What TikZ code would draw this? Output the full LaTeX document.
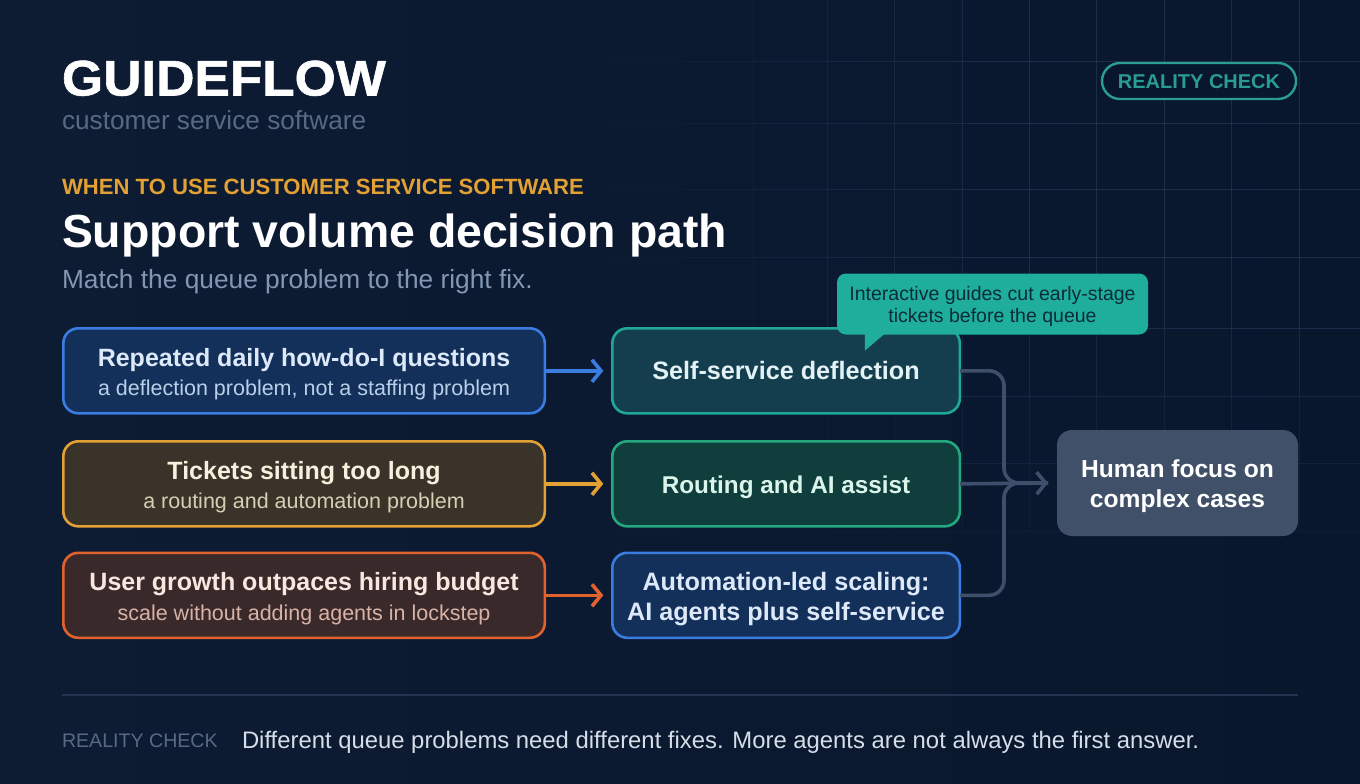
\documentclass[tikz,border=0pt]{standalone}
\usepackage{fontspec}
\setmainfont{Liberation Sans}
\newfontfamily\brandfont{Liberation Sans}[BoldFeatures={FakeStretch=1.06,FakeBold=1.2}]
\usepackage{xcolor}
\usepackage{tikz}
\usetikzlibrary{arrows.meta,positioning,calc}

\definecolor{bgleft}{HTML}{0D1C33}
\definecolor{bgright}{HTML}{08172C}
\definecolor{gridline}{HTML}{2A3F63}
\definecolor{ruleline}{HTML}{22344F}
\definecolor{mutedtext}{HTML}{566A86}
\definecolor{softtext}{HTML}{8297B4}
\definecolor{amber}{HTML}{E3A033}
\definecolor{tealline}{HTML}{2A9D90}
\definecolor{notefill}{HTML}{1FAE9B}
\definecolor{notetext}{HTML}{0B2B38}
\definecolor{blueline}{HTML}{3B7CE0}
\definecolor{bluefill}{HTML}{13305A}
\definecolor{amberfill}{HTML}{39332A}
\definecolor{orangeline}{HTML}{E2622E}
\definecolor{orangefill}{HTML}{3A292B}
\definecolor{cyanline}{HTML}{1FA896}
\definecolor{cyanfill}{HTML}{143E4E}
\definecolor{greenline}{HTML}{25A87E}
\definecolor{greenfill}{HTML}{0F3E3C}
\definecolor{humanfill}{HTML}{3F5068}
\definecolor{connline}{HTML}{3D4F6A}
\definecolor{footertext}{HTML}{D6DEE8}
\definecolor{bluetitle}{HTML}{DDE9F8}
\definecolor{bluesub}{HTML}{B8CFE8}
\definecolor{ambertitle}{HTML}{F6F0DC}
\definecolor{ambersub}{HTML}{D6CFB4}
\definecolor{orangetitle}{HTML}{F7E7DF}
\definecolor{orangesub}{HTML}{D9B3A6}
\definecolor{cyantitle}{HTML}{E3F3F5}
\definecolor{greentitle}{HTML}{DCF5EA}

\newcommand{\fsz}[2]{\fontsize{#1}{#2}\selectfont}
\newcommand{\topgap}[1]{\rule{0pt}{#1pt}}

\begin{document}
\begin{tikzpicture}[
    x=1pt, y=-1pt,
    label/.style={anchor=base west, inner sep=0pt, outer sep=0pt},
    box/.style={rectangle, rounded corners=15pt, line width=2.6pt, outer sep=0pt, inner sep=0pt, align=center, text centered},
    probbox/.style={box, minimum width=481.5pt, minimum height=85pt, font=\fsz{25}{29.5}\bfseries},
    fixbox/.style={box, minimum width=347.5pt, minimum height=85pt, font=\fsz{25.2}{30}\bfseries},
    arrow/.style={-{Straight Barb[length=9pt,width=22pt,line width=3.6pt]}, line width=3.6pt, shorten >=9pt},
    conn/.style={arrow, draw=connline, rounded corners=15pt}
]
    % Background
    \shade[left color=bgleft, right color=bgright] (0,0) rectangle (1360,784);
    \useasboundingbox (0,0) rectangle (1360,784);

    % Grid, fading out to the left and downwards
    \foreach \xa/\xb in {552/612,612/685,685/753,753/827,827/894,894/962,962/1029,1029/1096,1096/1164,1164/1231,1231/1299,1299/1360}
        \foreach \ya/\yb in {0/61,61/123,123/189,189/257,257/328,328/396,396/463,463/531,531/600}{
            \pgfmathsetmacro{\gridop}{max(0,min(1,(\xb-620)/400))*max(0,min(1,(620-\yb)/300))*0.55}
            \draw[gridline, line width=0.9pt, opacity=\gridop] (\xa,\yb) -- (\xb,\yb);
            \draw[gridline, line width=0.9pt, opacity=\gridop] (\xb,\ya) -- (\xb,\yb);
        }

    % Header
    \node[label, text=white, font=\fsz{50}{60}\brandfont\bfseries] (brand) at (62,95.5) {GUIDEFLOW};
    \node[label, text=mutedtext, font=\fsz{26.2}{30}] (brandsub) at (62,129.5) {customer service software};
    \node[label, text=amber, font=\fsz{22.1}{26}\bfseries] (kicker) at (62,194.5) {WHEN TO USE CUSTOMER SERVICE SOFTWARE};
    \node[label, text=white, font=\fsz{46.4}{54}\bfseries] (heading) at (62,247.5) {Support volume decision path};
    \node[label, text=softtext, font=\fsz{26.3}{30}] (intro) at (62,288) {Match the queue problem to the right fix.};

    % Badge
    \node[rectangle, rounded corners=18pt, draw=tealline, line width=2.4pt, fill=bgright, text=tealline,
          minimum width=194pt, minimum height=36pt, inner sep=0pt, font=\fsz{20}{25}\bfseries] (badge) at (1199,81) {\topgap{16}REALITY CHECK};

    % Problems
    \node[probbox, draw=blueline, fill=bluefill, text=bluetitle, anchor=north west] (repeated) at (63.3,328.3)
        {\topgap{25}Repeated daily how-do-I questions\\{\fsz{21.5}{29.5}\mdseries\color{bluesub} a deflection problem, not a staffing problem}};
    \node[probbox, draw=amber, fill=amberfill, text=ambertitle, below=28pt of repeated] (tickets)
        {\topgap{25}Tickets sitting too long\\{\fsz{21.5}{29.5}\mdseries\color{ambersub} a routing and automation problem}};
    \node[probbox, draw=orangeline, fill=orangefill, text=orangetitle, below=26.5pt of tickets] (growth)
        {\topgap{25}User growth outpaces hiring budget\\{\fsz{21.5}{29.5}\mdseries\color{orangesub} scale without adding agents in lockstep}};

    % Fixes
    \node[fixbox, draw=cyanline, fill=cyanfill, text=cyantitle, right=67.5pt of repeated] (selfserve) {Self-service deflection};
    \node[fixbox, draw=greenline, fill=greenfill, text=greentitle, right=67.5pt of tickets, font=\fsz{24.3}{30}\bfseries] (routing) {\topgap{24}Routing and AI assist};
    \node[fixbox, draw=blueline, fill=bluefill, text=bluetitle, right=67.5pt of growth] (scaling) {\topgap{25}Automation-led scaling:\\AI agents plus self-service};

    % Outcome
    \node[box, draw=none, fill=humanfill, text=white, minimum width=241pt, minimum height=106pt, font=\fsz{24.6}{30}\bfseries,
          anchor=west] (human) at (1057,483) {\topgap{25}Human focus on\\complex cases};

    % Callout
    \node[rectangle, rounded corners=9pt, fill=notefill, text=notetext, minimum width=311pt, minimum height=61pt, inner sep=0pt,
          align=center, font=\fsz{19.5}{22}] (note) at (992.5,304) {\topgap{19}Interactive guides cut early-stage\\tickets before the queue};
    \fill[notefill] ($(note.south west)+(28,-1)$) -- ($(note.south west)+(28,16)$) -- ($(note.south west)+(48,-1)$) -- cycle;

    % Arrows
    \draw[arrow, blueline] (repeated) -- (selfserve);
    \draw[arrow, amber] (tickets) -- (routing);
    \draw[arrow, orangeline] (growth) -- (scaling);
    \coordinate (merge) at (1004,483);
    \draw[conn, -] (selfserve.east) -| (merge) -- (human.west);
    \draw[conn, -] (scaling.east) -| (merge) -- (human.west);
    \draw[conn] (routing.east) -- (human.west);

    % Footer
    \draw[ruleline, line width=2pt] (62,695) -- (1298,695);
    \node[label, text=mutedtext, font=\fsz{19.6}{24}] (footkey) at (62,747) {REALITY CHECK};
    \node[label, text=footertext, font=\fsz{23.85}{26}] (footnote) at (242,748) {Different queue problems need different fixes. More agents are not always the first answer.};
\end{tikzpicture}
\end{document}
